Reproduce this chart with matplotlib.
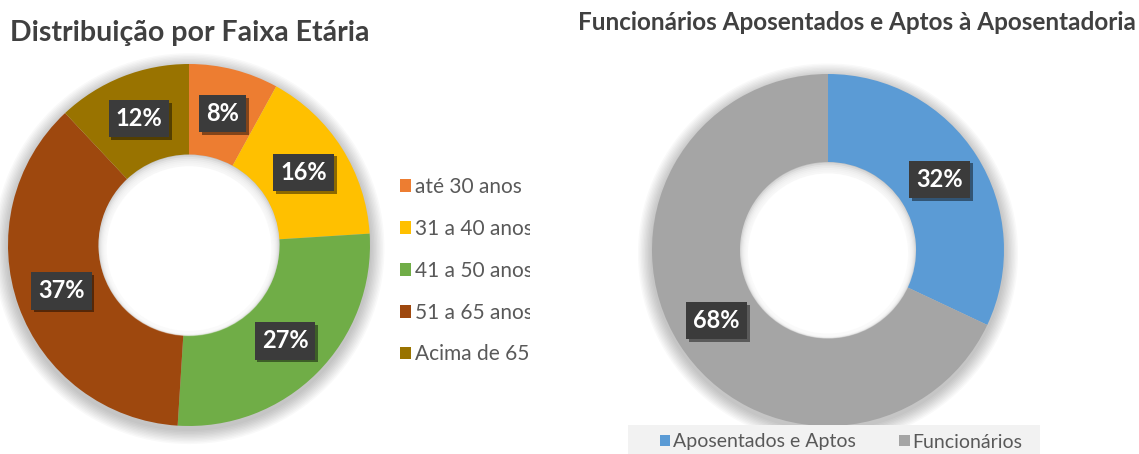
import matplotlib
matplotlib.use("Agg")
import matplotlib.pyplot as plt
from matplotlib.patches import Circle, Rectangle
from matplotlib.transforms import Bbox, IdentityTransform, TransformedBbox
import matplotlib.patheffects as pe

# ---- data ----
age_labels = ["até 30 anos", "31 a 40 anos", "41 a 50 anos", "51 a 65 anos", "Acima de 65 anos"]
age_values = [8, 16, 27, 37, 12]
age_colors = ["#ED7D31", "#FFC000", "#70AD47", "#9E480E", "#997300"]

ret_labels = ["Aposentados e Aptos", "Funcionários"]
ret_values = [32, 68]
ret_colors = ["#5B9BD5", "#A5A5A5"]

title_left = "Distribuição por Faixa Etária"
title_right = "Funcionários Aposentados e Aptos à Aposentadoria"

W, H = 1139, 454
fig = plt.figure(figsize=(W / 100, H / 100), dpi=100)
fig.patch.set_facecolor("white")
plt.rcParams["font.family"] = ["Lato", "DejaVu Sans"]

LIM = 1.12


def px_axes(cx, cy, r):
    R = r * LIM
    return fig.add_axes([(cx - R) / W, (H - cy - R) / H, 2 * R / W, 2 * R / H])


def donut(ax, values, colors):
    # soft outer shadow
    for i in range(10):
        rr = 1.0 + 0.008 * (i + 1)
        ax.add_patch(Circle((0.0, -0.02), rr, fc="#000000", alpha=0.022, lw=0, zorder=0))
    wedges, _, autotexts = ax.pie(
        values, colors=colors, startangle=90, counterclock=False, radius=1.0,
        autopct=lambda p: f"{p:.0f}%", pctdistance=0.75,
        wedgeprops=dict(width=0.5, edgecolor="none"),
        textprops=dict(color="white", fontsize=17, fontweight="bold"),
    )
    ax.set_xlim(-LIM, LIM)
    ax.set_ylim(-LIM, LIM)
    ax.set_aspect("equal")
    ax.axis("off")
    # inner shadow in the hole
    for i in range(8):
        rr = 0.5 - 0.006 * i
        ax.add_patch(Circle((0.0, -0.004 * (i + 1)), rr, fc="white", alpha=0.3, lw=0, zorder=3))
    ax.add_patch(Circle((0.0, -0.02), 0.455, fc="white", lw=0, zorder=3))
    for t in autotexts:
        t.set_zorder(5)
        t.set_bbox(dict(boxstyle="square,pad=0.3", fc="#3B3B3B", ec="none"))
        t.get_bbox_patch().set_path_effects([
            pe.SimplePatchShadow(offset=(2, -2), shadow_rgbFace="black", alpha=0.45),
            pe.Normal(),
        ])
    return wedges


ax1 = px_axes(189, 245, 181)
w1 = donut(ax1, age_values, age_colors)

ax2 = px_axes(828, 250, 176)
w2 = donut(ax2, ret_values, ret_colors)

fig.text(10 / W, 1 - 33 / H, title_left, fontsize=20.5, fontweight="bold",
         color="#404040", va="center", ha="left")
fig.text(1136 / W, 1 - 22 / H, title_right, fontsize=17.5, fontweight="bold",
         color="#404040", va="center", ha="right")

leg1 = fig.legend(w1, age_labels, loc="upper left", bbox_to_anchor=(400 / W, 1 - 177 / H),
                  frameon=False, fontsize=15, labelcolor="#595959",
                  handlelength=0.55, handleheight=0.55, handletextpad=0.15,
                  labelspacing=1.05, borderaxespad=0, borderpad=0)
clip = TransformedBbox(Bbox([[0, 0], [530, H]]), IdentityTransform())
for t in leg1.get_texts():
    t.set_clip_box(clip)
    t.set_clip_on(True)

# bottom legend background
fig.patches.append(Rectangle((628 / W, 0), (1040 - 628) / W, 29 / H,
                             transform=fig.transFigure, fc="#F2F2F2", ec="none", zorder=0))
leg2 = fig.legend(w2, ret_labels, loc="center", bbox_to_anchor=(841 / W, 1 - 442 / H),
                  ncol=2, frameon=False, fontsize=14, labelcolor="#595959",
                  handlelength=0.55, handleheight=0.55, handletextpad=0.15,
                  columnspacing=2.2, borderaxespad=0, borderpad=0)

fig.savefig("out.png", dpi=100)
